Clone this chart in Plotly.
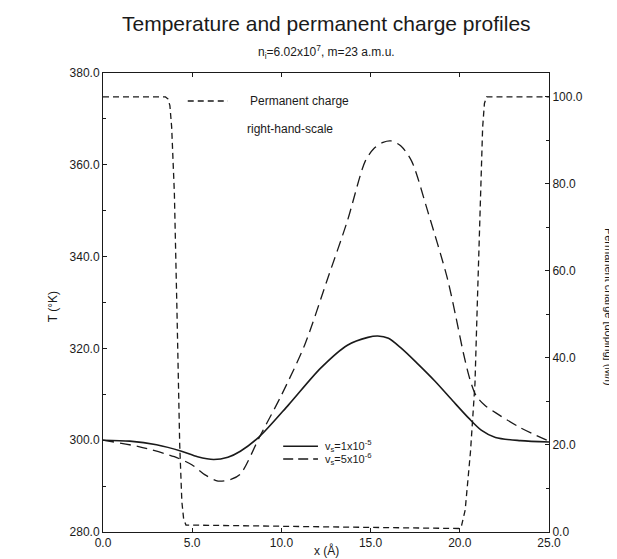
import plotly.graph_objects as go

# Temperature, v_s = 1x10^-5 (solid)
x_solid = [0.0, 1.5, 3.0, 4.4, 5.3, 6.2, 7.0, 7.7, 8.8, 10.4, 12.2, 13.7, 14.85, 15.4, 16.0, 16.7, 17.6, 18.6, 19.6, 20.5, 21.2, 22.0, 23.4, 25.0]
t_solid = [300.0, 299.8, 299.0, 297.6, 296.4, 295.8, 296.3, 297.6, 300.9, 307.7, 315.7, 320.7, 322.4, 322.7, 322.2, 320.1, 316.8, 312.9, 308.6, 304.8, 302.2, 300.6, 299.9, 299.6]

# Temperature, v_s = 5x10^-6 (long dashes)
x_dash = [0.0, 2.0, 4.0, 5.0, 5.7, 6.45, 7.2, 7.7, 8.8, 10.0, 11.3, 12.6, 13.7, 14.7, 15.2, 15.7, 16.15, 16.7, 17.3, 18.2, 19.3, 19.8, 20.2, 20.55, 20.9, 21.4, 22.0, 23.4, 25.0]
t_dash = [300.0, 298.6, 296.4, 294.6, 292.5, 291.1, 291.5, 292.6, 300.9, 309.8, 320.7, 335.3, 347.8, 360.8, 363.6, 364.9, 365.2, 364.1, 360.8, 349.9, 335.3, 326.5, 319.0, 313.5, 309.8, 307.6, 306.0, 302.7, 299.8]

# Permanent charge (right-hand scale, short dashes)
x_charge = [0.0, 3.5, 3.65, 3.75, 3.85, 4.0, 4.15, 4.3, 4.42, 4.52, 4.65, 20.0, 20.1, 20.3, 20.6, 20.85, 21.0, 21.15, 21.28, 21.38, 21.5, 25.0]
charge = [100.0, 100.0, 99.5, 98.0, 93.0, 78.0, 50.0, 20.0, 7.0, 3.0, 1.6, 0.8, 1.5, 5.0, 18.5, 34.0, 55.0, 78.0, 93.0, 98.5, 100.0, 100.0]

x_ticks = [0, 5, 10, 15, 20, 25]
t_ticks = [280, 300, 320, 340, 360, 380]
c_ticks = [0, 20, 40, 60, 80, 100]

INK = "#1a1a1a"
FONT = "Liberation Sans, Arial, sans-serif"

fig = go.Figure()
fig.add_trace(go.Scatter(x=x_solid, y=t_solid, mode="lines", line=dict(color=INK, width=1.6, shape="spline", smoothing=0.8),
                         name="v_s=1x10^-5", showlegend=False))
fig.add_trace(go.Scatter(x=x_dash, y=t_dash, mode="lines", line=dict(color=INK, width=1.3, dash="11px,6px", shape="spline", smoothing=0.8),
                         name="v_s=5x10^-6", showlegend=False))
fig.add_trace(go.Scatter(x=x_charge, y=charge, mode="lines", yaxis="y2",
                         line=dict(color=INK, width=1.3, dash="6px,4px"),
                         name="Permanent charge", showlegend=False))

axis_common = dict(showline=True, linecolor=INK, linewidth=1, ticks="inside", ticklen=4,
                   tickcolor=INK, showgrid=False, zeroline=False,
                   tickfont=dict(family=FONT, size=12, color=INK))

fig.update_layout(
    width=617, height=559,
    margin=dict(l=95, r=76, t=65, b=35),
    paper_bgcolor="white", plot_bgcolor="white",
    font=dict(family=FONT, color=INK),
    xaxis=dict(range=[0, 25], tickvals=x_ticks, tickformat=".1f", mirror="ticks", **axis_common),
    yaxis=dict(range=[280, 380], tickvals=t_ticks, tickformat=".1f",
               minor=dict(dtick=10, ticks="inside", ticklen=3, tickcolor=INK), **axis_common),
    yaxis2=dict(range=[0, 105.5], tickvals=c_ticks, tickformat=".1f", overlaying="y", side="right",
                minor=dict(dtick=10, ticks="inside", ticklen=3, tickcolor=INK), **axis_common),
    showlegend=False,
)

def paper_line(x0, x1, y, dash):
    fig.add_shape(type="line", xref="paper", yref="paper", x0=x0, x1=x1, y0=y, y1=y,
                  line=dict(color=INK, width=1.5 if dash == "solid" else 1.3, dash=dash))

# legend samples
paper_line(0.19, 0.28, 0.939, "6px,4px")
paper_line(0.404, 0.482, 0.187, "solid")
paper_line(0.404, 0.482, 0.159, "10px,5px")

annots = [
    dict(x=0.5, y=1.0, xref="paper", yref="paper", yshift=50, text="Temperature and permanent charge profiles",
         font=dict(size=21), xanchor="center", yanchor="middle"),
    dict(x=0.5, y=1.0, xref="paper", yref="paper", yshift=21, text="n<sub>i</sub>=6.02x10<sup>7</sup>, m=23 a.m.u.",
         font=dict(size=12), xanchor="center", yanchor="middle"),
    dict(x=0.325, y=0.939, xref="paper", yref="paper", text="Permanent charge", font=dict(size=12),
         xanchor="left", yanchor="middle"),
    dict(x=0.318, y=0.878, xref="paper", yref="paper", text="right-hand-scale", font=dict(size=12),
         xanchor="left", yanchor="middle"),
    dict(x=0.493, y=0.187, xref="paper", yref="paper", text="v<sub>s</sub>=1x10<sup>-5</sup>", font=dict(size=11),
         xanchor="left", yanchor="middle"),
    dict(x=0.493, y=0.159, xref="paper", yref="paper", text="v<sub>s</sub>=5x10<sup>-6</sup>", font=dict(size=11),
         xanchor="left", yanchor="middle"),
    dict(x=-0.112, y=0.49, xref="paper", yref="paper", text="T (°K)", textangle=-90, font=dict(size=12),
         xanchor="center", yanchor="middle"),
    dict(x=1.135, y=0.49, xref="paper", yref="paper", text="Permanent charge [doping] (M/l)", textangle=90,
         font=dict(size=11), xanchor="center", yanchor="middle"),
    dict(x=0.5, y=-0.041, xref="paper", yref="paper", text="x (Å)", font=dict(size=12),
         xanchor="center", yanchor="middle"),
]
for a in annots:
    a.setdefault("showarrow", False)
    fig.add_annotation(**a)

fig.write_html("out.html")
